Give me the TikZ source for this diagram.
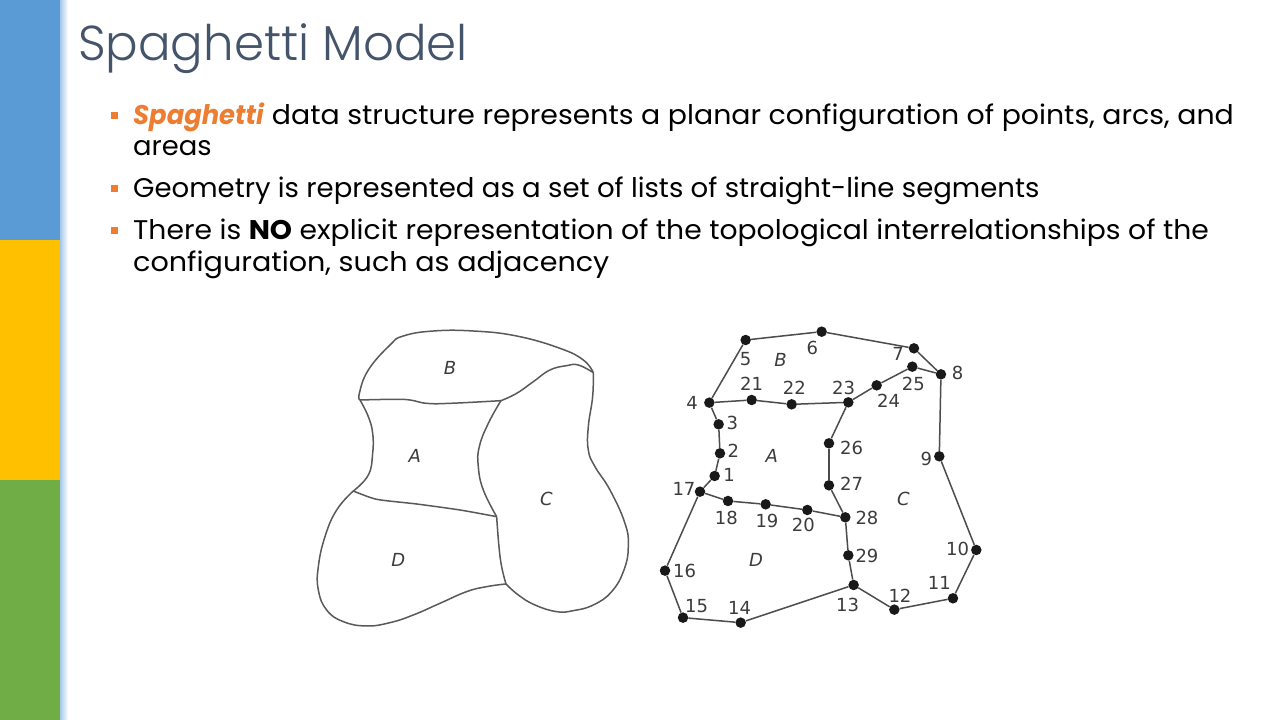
\documentclass[tikz,border=0pt]{standalone}
\usepackage{fontspec}
\setmainfont{Poppins}
\newfontfamily\titlefont{Poppins Light}
\newfontfamily\lblfont{DejaVu Sans}
\definecolor{barblue}{HTML}{5B9BD5}
\definecolor{baryellow}{HTML}{FFC000}
\definecolor{bargreen}{HTML}{70AD47}
\definecolor{titleblue}{HTML}{44546A}
\definecolor{accent}{HTML}{ED7D31}
\definecolor{inkgrey}{HTML}{3C3C3C}
\tikzset{
  bodytext/.style={anchor=base west,inner sep=0pt,font=\fontsize{27}{27}\selectfont,text=black},
  bulletbox/.style={fill=accent,draw=none,minimum size=7pt,inner sep=0pt},
  pt/.style={circle,fill=black!90,draw=none,minimum size=10.5pt,inner sep=0pt},
  num/.style={inner sep=0pt,text=inkgrey,font=\lblfont\fontsize{18}{18}\selectfont},
  region/.style={inner sep=0pt,text=inkgrey,font=\lblfont\itshape\fontsize{18}{18}\selectfont},
  seg/.style={draw=black!70,line width=1.5pt},
  curve/.style={draw=black!65,line width=1.5pt,line join=round},
}
\begin{document}
\begin{tikzpicture}[x=1pt,y=-1pt]
\useasboundingbox (0,0) rectangle (1280,720);
\fill[white] (0,0) rectangle (1280,720);
\fill[barblue] (0,0) rectangle (60,240);
\fill[baryellow] (0,240) rectangle (60,480);
\fill[bargreen] (0,480) rectangle (60,720);
\shade[left color=barblue!55,right color=white] (60,0) rectangle (68,720);

\node[anchor=base west,inner sep=0pt,text=titleblue,font=\titlefont\fontsize{49}{49}\selectfont] (title) at (78,60) {\scalebox{0.985}[1]{Spaghetti Model}};

\node[bulletbox] (b1) at (114.5,115) {};
\node[bodytext] (l1) at (133,124) {\scalebox{1.05}[1]{\textcolor{accent}{\scalebox{0.91}[1]{\textbf{\textit{Spaghetti}}}} data structure represents a planar configuration of points, arcs, and}};
\node[bodytext] (l1b) at (133,155) {\scalebox{1.015}[1]{areas}};
\node[bulletbox] (b2) at (114.5,188) {};
\node[bodytext] (l2) at (133,197) {\scalebox{1.02}[1]{Geometry is represented as a set of lists of straight-line segments}};
\node[bulletbox] (b3) at (114.5,230) {};
\node[bodytext] (l3) at (133,239) {\scalebox{1.045}[1]{There is \textbf{NO} explicit representation of the topological interrelationships of the}};
\node[bodytext] (l3b) at (133,271) {\scalebox{1.06}[1]{configuration, such as adjacency}};

% left map
\begin{scope}[shift={(300,320)},x=0.3333pt,y=-0.3333pt]
\coordinate (tl) at (180,240);
\coordinate (tr) at (880,158);
\coordinate (m) at (603,242);
\coordinate (lft) at (160,513);
\coordinate (r) at (590,590);
\coordinate (bm) at (618,792);
\draw[curve] plot[smooth,tension=.75] coordinates {(tl) (178,220) (205,150) (270,75) (310,48) (400,33) (520,33) (650,48) (780,85) (850,120) (tr)};
\draw[curve] plot[smooth,tension=.75] coordinates {(tl) (280,238) (330,240) (380,250) (450,250) (m)};
\draw[curve] plot[smooth,tension=.75] coordinates {(m) (650,220) (700,185) (750,150) (800,137) (835,135) (tr)};
\draw[curve] plot[smooth,tension=.75] coordinates {(tr) (878,230) (865,320) (865,390) (885,440) (930,510) (975,610) (985,680) (972,750) (935,815) (880,855) (820,872) (770,875) (705,855) (655,825) (bm)};
\draw[curve] plot[smooth,tension=.75] coordinates {(tl) (205,290) (218,340) (218,400) (205,465) (lft)};
\draw[curve] plot[smooth,tension=.75] coordinates {(m) (565,310) (538,380) (535,440) (550,510) (r)};
\draw[curve] plot[smooth,tension=.4] coordinates {(lft) (230,538) (350,552) (480,570) (r)};
\draw[curve] plot[smooth,tension=.75] coordinates {(r) (597,680) (605,740) (bm)};
\draw[curve] plot[smooth,tension=.75] coordinates {(bm) (560,800) (500,815) (420,850) (340,885) (270,908) (200,918) (130,905) (80,870) (55,810) (55,740) (75,650) (110,570) (lft)};
\node[region] (rb) at (450,143) {B};
\node[region] (ra) at (344,408) {A};
\node[region] (rc) at (739,536) {C};
\node[region] (rd) at (295,719) {D};
\end{scope}

% right map
\begin{scope}[shift={(650,320)},x=0.3333pt,y=-0.3333pt]
\foreach \n/\px/\py in {1/194/468,2/210/400,3/206/313,4/178/248,5/287/60,6/515/35,7/792/85,8/873/163,9/868/409,10/979/690,11/909/835,12/733/869,13/611/795,14/272/908,15/99/893,16/45/752,17/150/515,18/234/543,19/347/553,20/472/570,21/305/240,22/425/253,23/595/247,24/680/196,25/787/140,26/537/370,27/537/496,28/586/592,29/595/706}
  {\node[pt] (p\n) at (\px,\py) {};}
\foreach \a/\b in {17/1,1/2,2/3,3/4,4/5,5/6,6/7,7/8,8/9,9/10,10/11,11/12,12/13,13/14,14/15,15/16,16/17,17/18,18/19,19/20,20/28,4/21,21/22,22/23,23/24,24/25,25/8,23/26,26/27,27/28,28/29,29/13}
  {\draw[seg] (p\a) -- (p\b);}
\foreach \n/\px/\py in {1/237/466,2/250/392,3/247/308,4/126/250,5/287/116,6/487/84,7/744/102,8/923/160,9/829/418,10/923/688,11/868/790,12/750/828,13/593/855,14/269/865,15/140/858,16/104/752,17/102/506,18/229/595,19/351/604,20/460/615,21/305/192,22/433/203,23/581/205,24/716/243,25/790/192,26/605/385,27/605/490,28/651/594,29/651/708}
  {\node[num] (t\n) at (\px,\py) {\n};}
\node[region] (qb) at (392,120) {B};
\node[region] (qa) at (365,408) {A};
\node[region] (qc) at (760,538) {C};
\node[region] (qd) at (318,720) {D};
\end{scope}
\end{tikzpicture}
\end{document}
